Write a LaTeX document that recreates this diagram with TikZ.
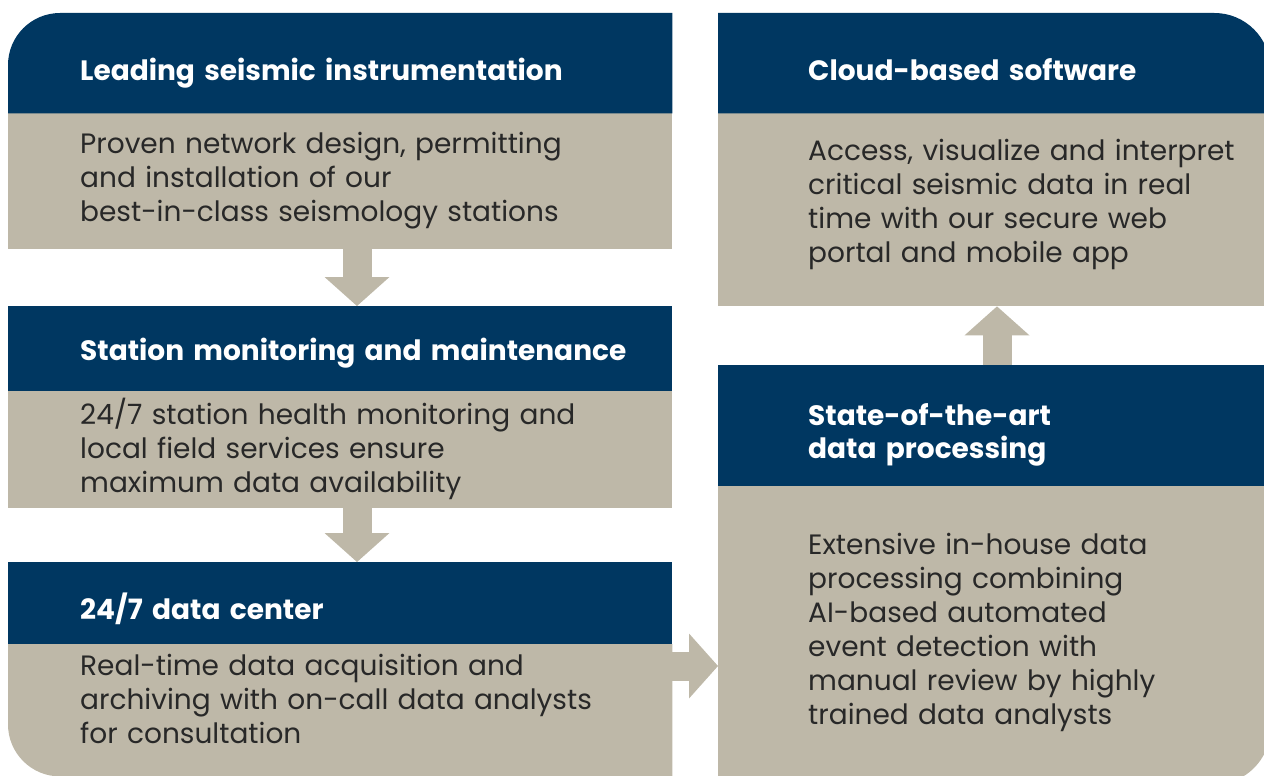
\documentclass[tikz,border=0pt]{standalone}
\usepackage{fontspec}
\setmainfont{Poppins}
\usetikzlibrary{arrows.meta}

\definecolor{marine}{RGB}{0,55,97}
\definecolor{sable}{RGB}{190,184,168}
\definecolor{encre}{RGB}{40,40,40}

\tikzset{
  entete/.style={fill=marine, inner sep=0pt, anchor=north west},
  corps/.style={fill=sable, inner sep=0pt, anchor=north west},
  titre/.style={color=white, anchor=base west, inner sep=0pt, text width=600pt, align=left,
    font=\fontsize{28}{33}\selectfont\bfseries},
  texte/.style={color=encre, anchor=base west, inner sep=0pt, text width=600pt, align=left,
    font=\fontsize{28}{34}\selectfont},
  fleche/.style={draw=sable, line width=29pt, -{Triangle[length=29pt,width=65pt,line width=0pt]}}
}

\begin{document}
\begin{tikzpicture}[x=1pt, y=-1pt]
    \useasboundingbox (0,0) rectangle (1264,776);
    \coordinate (P) at (357,0);
    \coordinate (Q) at (672,666);
    \coordinate (R) at (997,0);

    % colonne de gauche
    \node[entete, minimum width=664pt, minimum height=100pt, fill=none] (H1) at (8,13) {};
    \node[corps, minimum width=664pt, minimum height=136pt] (B1) at (8,113) {};
    \node[entete, minimum width=664pt, minimum height=85pt] (H2) at (8,306) {};
    \node[corps, minimum width=664pt, minimum height=117pt] (B2) at (8,391) {};
    \node[entete, minimum width=664pt, minimum height=82pt] (H3) at (8,562) {};
    \node[corps, minimum width=664pt, minimum height=132pt, fill=none] (B3) at (8,644) {};

    % colonne de droite
    \node[entete, minimum width=552pt, minimum height=100pt, fill=none] (H4) at (718,13) {};
    \node[corps, minimum width=552pt, minimum height=193pt] (B4) at (718,113) {};
    \node[entete, minimum width=552pt, minimum height=121pt] (H5) at (718,365) {};
    \node[corps, minimum width=552pt, minimum height=298pt, fill=none] (B5) at (718,486) {};

    % coins arrondis
    \fill[marine] (H1.south west) [rounded corners=52pt] -- (H1.north west) [sharp corners] -- (H1.north east) -- (H1.south east) -- cycle;
    \fill[sable] (B3.north west) -- (B3.north east) -- (B3.south east) [rounded corners=52pt] -- (B3.south west) [sharp corners] -- cycle;
    \fill[marine] (H4.south west) -- (H4.north west) [rounded corners=56pt] -- (H4.north east) [sharp corners] -- (H4.south east) -- cycle;
    \fill[sable] (B5.north west) -- (B5.north east) [rounded corners=56pt] -- (B5.south east) [sharp corners] -- (B5.south west) -- cycle;

    \draw[fleche] (B1.south -| P) -- (H2.north -| P);
    \draw[fleche] (B2.south -| P) -- (H3.north -| P);
    \draw[fleche] (B3.east |- Q) -- (B5.west |- Q);
    \draw[fleche] (H5.north -| R) -- (B4.south -| R);

    \node[titre] (T1) at (80,81) {Leading seismic instrumentation};
    \node[texte] (C1) at (80,153) {Proven network design, permitting\\ and installation of our\\ best-in-class seismology stations};
    \node[titre] (T2) at (80,360) {Station monitoring and maintenance};
    \node[texte] (C2) at (80,424) {24/7 station health monitoring and\\ local field services ensure\\ maximum data availability};
    \node[titre] (T3) at (80,619) {24/7 data center};
    \node[texte] (C3) at (80,675) {Real-time data acquisition and\\ archiving with on-call data analysts\\ for consultation};

    \node[titre] (T4) at (808,81) {Cloud-based software};
    \node[texte] (C4) at (808,160) {Access, visualize and interpret\\ critical seismic data in real\\ time with our secure web\\ portal and mobile app};
    \node[titre] (T5) at (808,425) {State-of-the-art\\ data processing};
    \node[texte] (C5) at (808,554) {Extensive in-house data\\ processing combining\\ AI-based automated\\ event detection with\\ manual review by highly\\ trained data analysts};
\end{tikzpicture}
\end{document}
